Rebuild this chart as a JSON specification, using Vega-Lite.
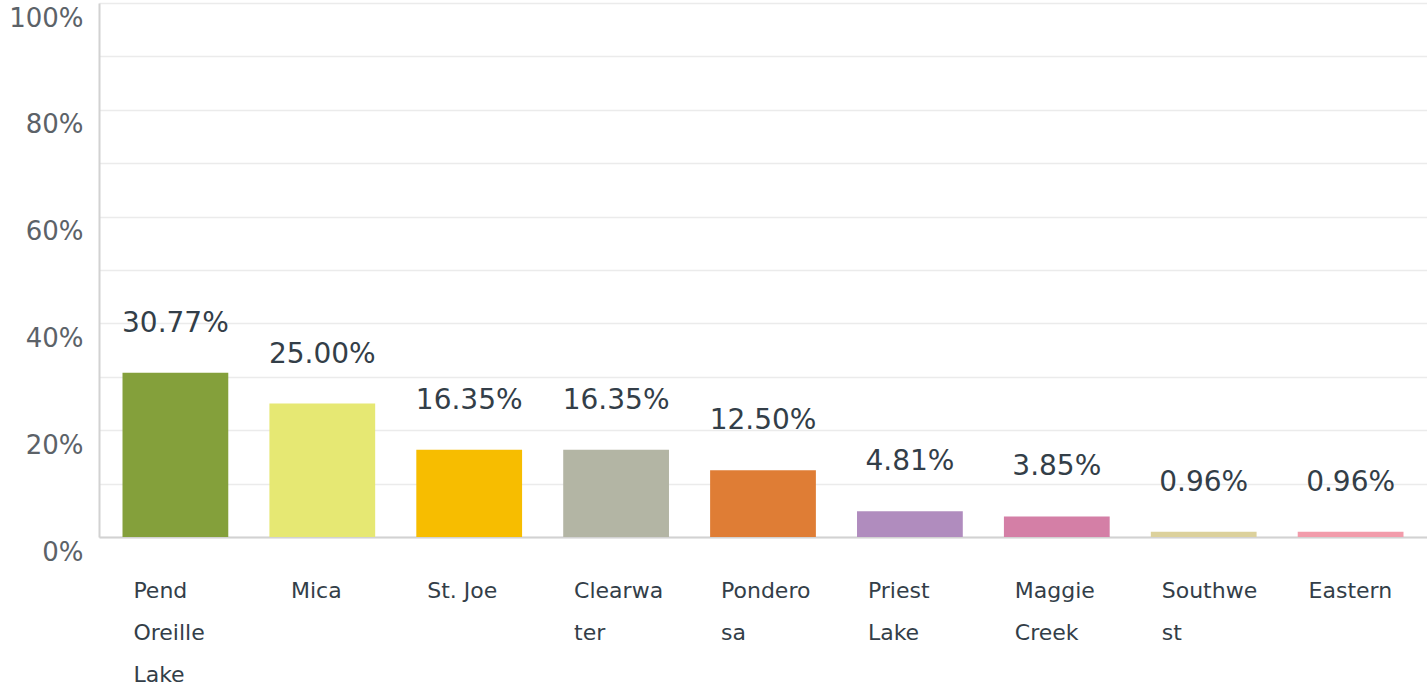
{
  "$schema": "https://vega.github.io/schema/vega-lite/v6.json",
  "autosize": "none",
  "width": 1328,
  "height": 534,
  "padding": {"left": 99, "top": 3, "right": 0, "bottom": 150},
  "background": "white",
  "config": {"view": {"stroke": null}},
  "data": {
    "values": [
      {"region": "Pend Oreille Lake", "pct": 0.3077},
      {"region": "Mica", "pct": 0.25},
      {"region": "St. Joe", "pct": 0.1635},
      {"region": "Clearwater", "pct": 0.1635},
      {"region": "Ponderosa", "pct": 0.125},
      {"region": "Priest Lake", "pct": 0.0481},
      {"region": "Maggie Creek", "pct": 0.0385},
      {"region": "Southwest", "pct": 0.0096},
      {"region": "Eastern", "pct": 0.0096}
    ]
  },
  "encoding": {
    "x": {
      "field": "region",
      "type": "nominal",
      "sort": null,
      "scale": {"paddingInner": 0.28, "paddingOuter": 0.16},
      "axis": {
        "title": null,
        "labelAngle": 0,
        "ticks": false,
        "domainColor": "#d2d2d2",
        "domainWidth": 2,
        "labelFont": "DejaVu Sans",
        "labelFontSize": 22,
        "labelColor": "#333e48",
        "labelBaseline": "top",
        "labelPadding": 43,
        "labelLineHeight": 42,
        "labelAlign": {"condition": {"test": "datum.value == 'Mica'", "value": "center"}, "value": "left"},
        "labelOffset": {"condition": {"test": "datum.value == 'Mica'", "value": -6}, "value": -42},
        "labelLimit": 300,
        "labelExpr": "datum.value == 'Pend Oreille Lake' ? ['Pend', 'Oreille', 'Lake'] : datum.value == 'Clearwater' ? ['Clearwa', 'ter'] : datum.value == 'Ponderosa' ? ['Pondero', 'sa'] : datum.value == 'Priest Lake' ? ['Priest', 'Lake'] : datum.value == 'Maggie Creek' ? ['Maggie', 'Creek'] : datum.value == 'Southwest' ? ['Southwe', 'st'] : datum.label"
      }
    },
    "y": {
      "field": "pct",
      "type": "quantitative",
      "scale": {"domain": [0, 1], "nice": false},
      "axis": {
        "title": null,
        "values": [0, 0.1, 0.2, 0.3, 0.4, 0.5, 0.6, 0.7, 0.8, 0.9, 1],
        "format": ".0%",
        "labelExpr": "round(datum.value * 100) % 20 == 0 ? datum.label : ''",
        "ticks": false,
        "domainColor": "#d2d2d2",
        "domainWidth": 2,
        "gridColor": "#ebebeb",
        "gridWidth": 1.5,
        "labelFont": "DejaVu Sans",
        "labelFontSize": 26,
        "labelColor": "#5c6268",
        "labelPadding": 16,
        "labelBaseline": "middle",
        "labelOffset": 15
      }
    }
  },
  "layer": [
    {
      "mark": {"type": "bar"},
      "encoding": {
        "color": {
          "field": "region",
          "type": "nominal",
          "sort": null,
          "legend": null,
          "scale": {
            "domain": ["Pend Oreille Lake", "Mica", "St. Joe", "Clearwater", "Ponderosa", "Priest Lake", "Maggie Creek", "Southwest", "Eastern"],
            "range": ["#84a03b", "#e6e873", "#f7bd00", "#b3b5a4", "#df7d35", "#b08cbe", "#d47fa6", "#dcd19c", "#f29cab"]
          }
        }
      }
    },
    {
      "mark": {"type": "text", "baseline": "alphabetic", "dy": -41, "font": "DejaVu Sans", "fontSize": 28, "color": "#333e48"},
      "encoding": {
        "text": {"field": "pct", "type": "quantitative", "format": ".2%"}
      }
    }
  ]
}
